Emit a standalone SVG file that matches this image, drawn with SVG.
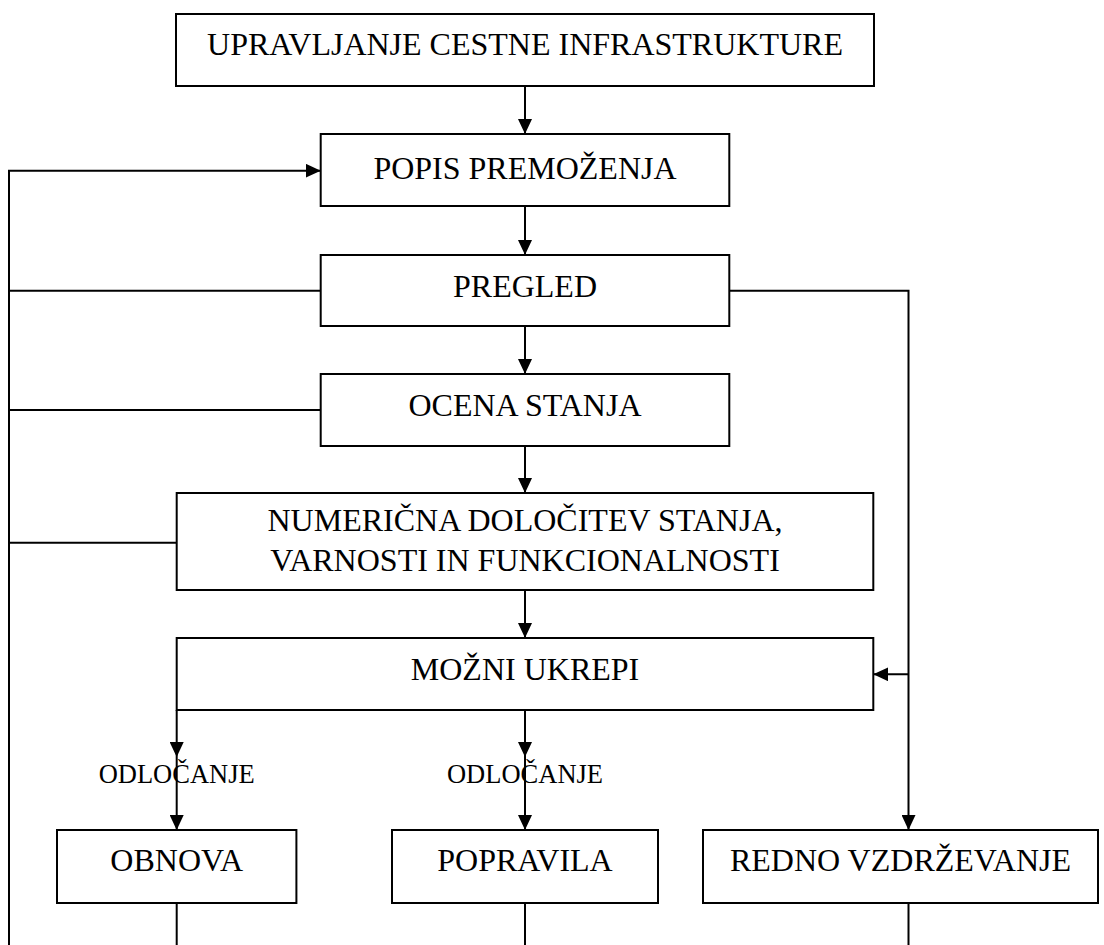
<svg xmlns="http://www.w3.org/2000/svg" width="1104" height="945" viewBox="0 0 1104 945">
<style>
.box{fill:#fff;stroke:#000;stroke-width:2}
.t{font-family:"Liberation Serif","Times New Roman",serif;font-size:32px;fill:#000;text-anchor:middle}
.s{font-family:"Liberation Serif","Times New Roman",serif;font-size:26.5px;fill:#000;text-anchor:middle}
.c{fill:none;stroke:#000;stroke-width:2}
</style>
<defs>
<marker id="ah" markerUnits="userSpaceOnUse" markerWidth="15" markerHeight="14" refX="15" refY="7" orient="auto">
<path d="M0,0 L15,7 L0,14 z" fill="#000"/>
</marker>
</defs>
<rect width="1104" height="945" fill="#fff"/>
<g id="connectors">
<line class="c" x1="525" y1="86" x2="525" y2="134" marker-end="url(#ah)"/>
<line class="c" x1="525" y1="206" x2="525" y2="255" marker-end="url(#ah)"/>
<line class="c" x1="525" y1="326" x2="525" y2="374" marker-end="url(#ah)"/>
<line class="c" x1="525" y1="446" x2="525" y2="493" marker-end="url(#ah)"/>
<line class="c" x1="525" y1="590" x2="525" y2="638" marker-end="url(#ah)"/>
<polyline class="c" points="9,945 9,170.7 320.7,170.7" marker-end="url(#ah)"/>
<line class="c" x1="9" y1="290.7" x2="320.7" y2="290.7"/>
<line class="c" x1="9" y1="410" x2="320.7" y2="410"/>
<line class="c" x1="9" y1="542.7" x2="176.7" y2="542.7"/>
<polyline class="c" points="729.3,290.7 908.5,290.7 908.5,830" marker-end="url(#ah)"/>
<line class="c" x1="908.5" y1="674.3" x2="873.3" y2="674.3" marker-end="url(#ah)"/>
<line class="c" x1="176.7" y1="710" x2="176.7" y2="757" marker-end="url(#ah)"/>
<line class="c" x1="176.7" y1="757" x2="176.7" y2="830" marker-end="url(#ah)"/>
<line class="c" x1="525" y1="710" x2="525" y2="757" marker-end="url(#ah)"/>
<line class="c" x1="525" y1="757" x2="525" y2="830" marker-end="url(#ah)"/>
<line class="c" x1="176.7" y1="903" x2="176.7" y2="945"/>
<line class="c" x1="525" y1="903" x2="525" y2="945"/>
<line class="c" x1="908.5" y1="903" x2="908.5" y2="945"/>
<text class="s" x="176.7" y="783">ODLOČANJE</text>
<text class="s" x="525" y="783">ODLOČANJE</text>
</g>
<g id="upravljanje"><rect class="box" x="176" y="14" width="698" height="72"/><text class="t" x="525" y="55">UPRAVLJANJE CESTNE INFRASTRUKTURE</text></g>
<g id="popis"><rect class="box" x="320.7" y="134" width="408.6" height="72"/><text class="t" x="525" y="179">POPIS PREMOŽENJA</text></g>
<g id="pregled"><rect class="box" x="320.7" y="255" width="408.6" height="71"/><text class="t" x="525" y="297">PREGLED</text></g>
<g id="ocena"><rect class="box" x="320.7" y="374" width="408.6" height="72"/><text class="t" x="525" y="416">OCENA STANJA</text></g>
<g id="numericna"><rect class="box" x="176.7" y="493" width="696.6" height="97"/><text class="t" x="525" y="531">NUMERIČNA DOLOČITEV STANJA,</text><text class="t" x="525" y="571">VARNOSTI IN FUNKCIONALNOSTI</text></g>
<g id="mozni"><rect class="box" x="176.7" y="638" width="696.6" height="72"/><text class="t" x="525" y="680">MOŽNI UKREPI</text></g>
<g id="obnova"><rect class="box" x="57" y="830" width="239.4" height="73"/><text class="t" x="176.7" y="871">OBNOVA</text></g>
<g id="popravila"><rect class="box" x="392" y="830" width="266" height="73"/><text class="t" x="525" y="871">POPRAVILA</text></g>
<g id="redno"><rect class="box" x="703" y="830" width="395" height="73"/><text class="t" x="900.5" y="871">REDNO VZDRŽEVANJE</text></g>
</svg>
